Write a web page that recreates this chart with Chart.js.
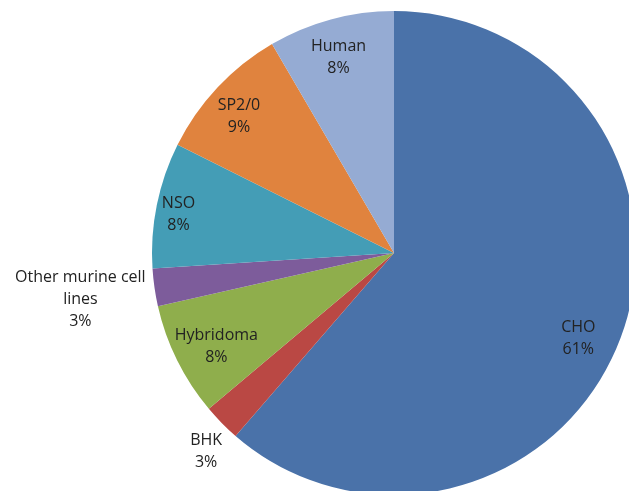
<!DOCTYPE html>
<html>
<head>
<meta charset="utf-8">
<script src="https://cdn.jsdelivr.net/npm/chart.js@4.4.0/dist/chart.umd.min.js"></script>
<style>
    html, body { margin: 0; padding: 0; background: #fff; overflow: hidden; }
    #chart-wrap { position: relative; width: 629px; height: 491px; overflow: hidden; }
    #cell-lines { position: absolute; left: 0; top: 0; }
</style>
</head>
<body>
<div id="chart-wrap">
    <canvas id="cell-lines" width="788" height="506"></canvas>
</div>
<script>
const cellLines = ["CHO", "BHK", "Hybridoma", "Other murine cell lines", "NSO", "SP2/0", "Human"];
// share of products per expression system, in percent
const shares = [61.3, 2.5, 7.6, 2.5, 8.4, 9.2, 8.4];
const sliceColors = ["#4a72a9", "#ba4844", "#8fae4c", "#7d5c9b", "#449db6", "#e0833e", "#95abd3"];

// where each label sits: fraction of the radius, and a nudge (degrees) off the slice middle
const labelPlacement = [
    { r: 0.84, shift: 4.5 },
    { r: 1.13, shift: -2.0 },
    { r: 0.83, shift: -1.4 },
    { r: 1.31, shift: -0.2 },
    { r: 0.905, shift: -1.2 },
    { r: 0.855, shift: -1.7 },
    { r: 0.84, shift: -0.7 }
];

const labelFont = "16px 'Open Sans', sans-serif";
const lineHeight = 22;
const wrapWidth = 145;

function wrapText(ctx, text) {
    const words = text.split(" ");
    const lines = [];
    let line = "";
    for (const word of words) {
        const test = line ? line + " " + word : word;
        if (line && ctx.measureText(test).width > wrapWidth) {
            lines.push(line);
            line = word;
        } else {
            line = test;
        }
    }
    lines.push(line);
    return lines;
}

const sliceLabels = {
    id: "sliceLabels",
    afterDatasetsDraw(chart) {
        const ctx = chart.ctx;
        const meta = chart.getDatasetMeta(0);
        ctx.save();
        ctx.font = labelFont;
        ctx.fillStyle = "#222222";
        ctx.textAlign = "center";
        ctx.textBaseline = "middle";
        meta.data.forEach((arc, i) => {
            const { x, y, startAngle, endAngle, outerRadius } = arc.getProps(["x", "y", "startAngle", "endAngle", "outerRadius"], true);
            const place = labelPlacement[i];
            const mid = (startAngle + endAngle) / 2 + place.shift * Math.PI / 180;
            const cx = x + Math.cos(mid) * outerRadius * place.r;
            const cy = y + Math.sin(mid) * outerRadius * place.r;

            const lines = wrapText(ctx, cellLines[i]);
            lines.push(Math.round(shares[i]) + "%");
            const top = cy - (lines.length - 1) * lineHeight / 2;
            lines.forEach((text, j) => ctx.fillText(text, cx, top + j * lineHeight));
        });
        ctx.restore();
    }
};

const ctx = document.getElementById("cell-lines");

new Chart(ctx, {
    type: "pie",
    data: {
        labels: cellLines,
        datasets: [{
            data: shares,
            backgroundColor: sliceColors,
            borderWidth: 0
        }]
    },
    options: {
        responsive: false,
        animation: false,
        devicePixelRatio: 1,
        radius: 242,
        layout: { padding: 0 },
        plugins: {
            legend: { display: false },
            tooltip: { enabled: false }
        }
    },
    plugins: [sliceLabels]
});
</script>
</body>
</html>
